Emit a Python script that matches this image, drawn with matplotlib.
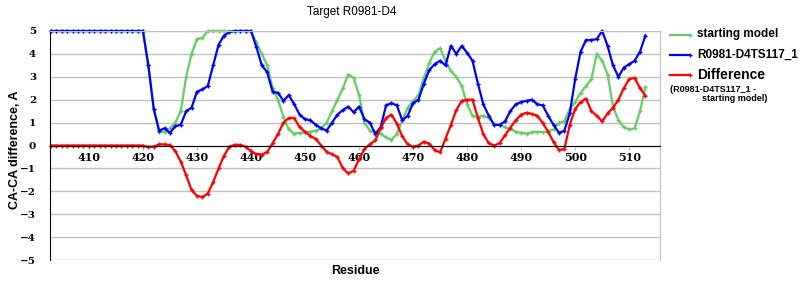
import numpy as np
import matplotlib
matplotlib.use("Agg")
import matplotlib.pyplot as plt
from matplotlib.lines import Line2D

# Residue numbers and CA-CA differences.
residues = list(range(403, 514))

starting_model = [
    5.0, 5.0, 5.0, 5.0, 5.0, 5.0, 5.0, 5.0, 5.0, 5.0, 5.0, 5.0, 5.0, 5.0, 5.0, 5.0, 5.0, 5.0,
    3.5, 1.6, 0.6, 0.6, 0.75, 1.0, 1.5, 3.0, 4.0, 4.65,
    4.7, 5.0, 5.0, 5.0, 5.0, 5.0, 5.0, 5.0, 5.0, 5.0,
    4.5, 4.0, 3.5, 2.5, 2.0, 1.25, 0.7, 0.52, 0.55, 0.58,
    0.6, 0.65, 0.75, 1.0, 1.5, 2.0, 2.5, 3.1, 2.95, 2.2,
    1.0, 0.65, 0.58, 0.52, 0.35, 0.25, 0.5, 1.1, 1.65, 1.95,
    2.2, 2.95, 3.6, 4.1, 4.25, 3.7, 3.25, 3.0, 2.6, 1.8,
    1.3, 1.25, 1.3, 1.2, 0.95, 0.9, 0.8, 0.72, 0.6, 0.55,
    0.52, 0.58, 0.6, 0.58, 0.62, 0.7, 1.0, 1.05, 1.6, 1.9,
    2.3, 2.6, 2.9, 4.0, 3.7, 3.1, 1.7, 1.1, 0.8, 0.7,
    0.75, 1.5, 2.55,
]

model_ts117 = [
    5.0, 5.0, 5.0, 5.0, 5.0, 5.0, 5.0, 5.0, 5.0, 5.0, 5.0, 5.0, 5.0, 5.0, 5.0, 5.0, 5.0, 5.0,
    3.5, 1.6, 0.65, 0.75, 0.55, 0.85, 0.9, 1.5, 1.65, 2.35,
    2.45, 2.6, 3.5, 4.4, 4.8, 4.95, 5.0, 5.0, 5.0, 5.0,
    4.3, 3.5, 3.2, 2.35, 2.3, 1.95, 2.2, 1.8, 1.35, 1.15,
    1.1, 0.9, 0.75, 0.65, 1.0, 1.35, 1.55, 1.7, 1.45, 1.7,
    1.15, 1.0, 0.5, 0.8, 1.75, 1.85, 1.75, 1.1, 1.3, 1.85,
    2.0, 2.7, 3.3, 3.55, 3.7, 3.5, 4.35, 4.0, 4.35, 4.05,
    3.7, 2.7, 1.8, 1.3, 0.9, 0.9, 1.05, 1.5, 1.8, 1.9,
    1.95, 2.0, 1.8, 1.75, 1.3, 0.9, 0.55, 0.65, 1.4, 2.9,
    4.1, 4.6, 4.6, 4.65, 5.0, 4.35, 3.5, 3.0, 3.4, 3.55,
    3.7, 4.1, 4.8,
]

difference = [
    0.0, 0.0, 0.0, 0.0, 0.0, 0.0, 0.0, 0.0, 0.0, 0.0, 0.0, 0.0, 0.0, 0.0, 0.0, 0.0, 0.0, 0.0,
    -0.07, -0.05, 0.05, 0.05, 0.02, -0.25, -0.7, -1.3, -1.95, -2.2,
    -2.25, -2.1, -1.6, -1.0, -0.45, -0.05, 0.03, 0.03, -0.05, -0.25,
    -0.38, -0.4, -0.28, 0.1, 0.5, 1.0, 1.2, 1.2, 0.8, 0.6,
    0.42, 0.28, 0.0, -0.28, -0.38, -0.5, -1.0, -1.22, -1.1, -0.6,
    -0.15, 0.05, 0.22, 0.75, 1.2, 1.35, 0.95, 0.4, 0.05, -0.06,
    0.0, 0.17, 0.08, -0.2, -0.3, 0.3, 0.9, 1.55, 1.95, 2.0,
    2.0, 1.2, 0.5, 0.1, 0.0, 0.1, 0.44, 0.78, 1.1, 1.35,
    1.43, 1.38, 1.3, 0.98, 0.6, 0.15, -0.2, -0.15, 0.9, 1.6,
    1.9, 2.05, 1.5, 1.3, 1.05, 1.4, 1.65, 2.0, 2.5, 2.9,
    2.95, 2.5, 2.18,
]

x_ticks = [410, 420, 430, 440, 450, 460, 470, 480, 490, 500, 510]
y_ticks = [-5, -4, -3, -2, -1, 0, 1, 2, 3, 4, 5]

green = "#66CC66"
blue = "#0000FF"
red = "#FF0000"
grid_gray = "#C0C0C0"

fig = plt.figure(figsize=(8, 3), dpi=100)
ax = fig.add_axes([0.0625, 0.1333, 0.7625, 0.7634])

line_kw = dict(linewidth=1.6, marker="+", markersize=3, markeredgewidth=1, clip_on=False)
ax.plot(residues, starting_model, color=green, **line_kw)
ax.plot(residues, model_ts117, color=blue, **line_kw)
ax.plot(residues, difference, color=red, **line_kw)

ax.set_xlim(402.8, 515.7)
ax.set_ylim(-5, 5)
ax.set_xticks(x_ticks)
ax.set_yticks(y_ticks)
ax.set_yticklabels([str(v).replace("-", "\u2212") for v in y_ticks])
ax.grid(axis="y", color=grid_gray, linewidth=1)
ax.set_axisbelow(True)

# x axis crosses at zero like the Excel original
ax.spines["bottom"].set_position(("data", 0))
ax.spines["bottom"].set_color("black")
ax.spines["left"].set_color("black")
ax.spines["top"].set_color(grid_gray)
ax.spines["right"].set_color(grid_gray)
ax.tick_params(axis="x", length=3, color=grid_gray, pad=2)
ax.tick_params(axis="y", length=0, pad=10)
for lab in ax.get_xticklabels():
    lab.set_fontfamily("DejaVu Serif")
    lab.set_fontweight("bold")
    lab.set_fontsize(8)
for lab in ax.get_yticklabels():
    lab.set_fontfamily("DejaVu Serif")
    lab.set_fontweight("bold")
    lab.set_fontsize(7.5)

fig.text(0.44, 0.96, "Target R0981-D4", ha="center", va="center",
         fontsize=8.5, family="Liberation Sans")
fig.text(0.019, 0.5, "CA-CA difference, A", rotation=90, ha="center", va="center",
         fontsize=9, fontweight="bold", family="Liberation Sans")
fig.text(0.444, 0.097, "Residue", ha="center", va="center",
         fontsize=9, fontweight="bold", family="Liberation Sans")

# legend drawn by hand to match the Excel layout
legend_rows = [(green, "starting model", 0.885), (blue, "R0981-D4TS117_1", 0.817),
               (red, "Difference", 0.75)]
for col, text, yy in legend_rows:
    fig.add_artist(Line2D([0.8375, 0.8625], [yy, yy], color=col, linewidth=1.6,
                          marker="+", markersize=3, markevery=[1]))
    fig.text(0.871, yy, text, ha="left", va="center", fontsize=10 if text == "Difference" else 8.5,
             fontweight="bold", family="Liberation Sans")
fig.text(0.837, 0.7, "(R0981-D4TS117_1 -", ha="left", va="center", fontsize=6.5,
         fontweight="bold", family="Liberation Sans")
fig.text(0.877, 0.672, "starting model)", ha="left", va="center", fontsize=6.5,
         fontweight="bold", family="Liberation Sans")

fig.savefig("out.png", dpi=100)
